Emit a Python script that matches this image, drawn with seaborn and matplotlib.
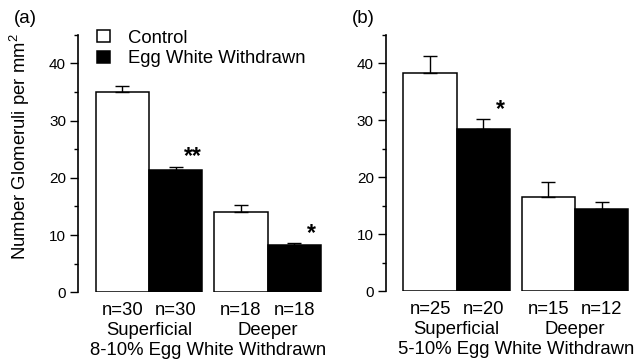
import numpy as np
import pandas as pd
import matplotlib
matplotlib.use("Agg")
import matplotlib.pyplot as plt
import matplotlib.transforms as mtransforms
from matplotlib.ticker import MultipleLocator
import seaborn as sns

# ---- data ----
groups = ["Superficial", "Deeper"]
conditions = ["Control", "Egg White Withdrawn"]

a_control = [35.0, 14.1]
a_control_err = [1.0, 1.1]
a_egg = [21.3, 8.3]
a_egg_err = [0.6, 0.3]
a_n_control = ["n=30", "n=18"]
a_n_egg = ["n=30", "n=18"]
a_stars = ["**", "*"]          # over Egg White bars
a_title = "8-10% Egg White Withdrawn"

b_control = [38.3, 16.6]
b_control_err = [3.1, 2.5]
b_egg = [28.4, 14.5]
b_egg_err = [1.8, 1.1]
b_n_control = ["n=25", "n=15"]
b_n_egg = ["n=20", "n=12"]
b_stars = ["*", ""]
b_title = "5-10% Egg White Withdrawn"

sns.set_theme(style="white")
plt.rcParams["font.family"] = ["Liberation Sans", "DejaVu Sans"]
plt.rcParams["font.size"] = 11
plt.rcParams["mathtext.fontset"] = "custom"
plt.rcParams["mathtext.rm"] = "Liberation Sans"
for key in ["text.color", "axes.labelcolor", "xtick.color", "ytick.color",
            "axes.edgecolor"]:
    plt.rcParams[key] = "black"

FS = 13.3

fig = plt.figure(figsize=(6.44, 3.61), dpi=100)
ax_a = fig.add_axes([0.121, 0.1903, 0.3865, 0.7136])
ax_b = fig.add_axes([0.599, 0.1939, 0.3857, 0.709])


def draw_panel(ax, ctrl, ctrl_err, egg, egg_err, n_ctrl, n_egg, stars, title):
    df = pd.DataFrame({
        "group": groups * 2,
        "condition": [conditions[0]] * 2 + [conditions[1]] * 2,
        "value": list(ctrl) + list(egg),
    })
    sns.barplot(data=df, x="group", y="value", hue="condition",
                order=groups, hue_order=conditions,
                palette=["white", "black"], edgecolor="black", linewidth=1.1,
                width=0.9, errorbar=None, ax=ax, legend=True)
    bar_conts = list(ax.containers[:2])
    errs = [ctrl_err, egg_err]
    nlabels = [n_ctrl, n_egg]
    base = ax.get_xaxis_transform()
    t1 = mtransforms.offset_copy(base, fig=fig, y=-23, units="dots")
    t2 = mtransforms.offset_copy(base, fig=fig, y=-43, units="dots")
    t3 = mtransforms.offset_copy(base, fig=fig, y=-63, units="dots")
    for k, cont in enumerate(bar_conts):
        xs = np.array([p.get_x() + p.get_width() / 2 for p in cont.patches])
        hs = np.array([p.get_height() for p in cont.patches])
        e = np.array(errs[k])
        ax.errorbar(xs, hs, yerr=[np.zeros_like(e), e], fmt="none",
                    ecolor="black", elinewidth=1.0, capsize=5, capthick=1.0,
                    zorder=1)
        for x, lab in zip(xs, nlabels[k]):
            ax.text(x, 0, lab, transform=t1, ha="center", va="baseline",
                    fontsize=FS)
        if k == 1:
            for x, h, ee, s in zip(xs, hs, e, stars):
                if s:
                    ax.text(x + 0.145, h + ee + 0.6, s, ha="center",
                            va="baseline", fontsize=16.5, fontweight="bold")
    for i, g in enumerate(groups):
        ax.text(i, 0, g, transform=t2, ha="center", va="baseline", fontsize=FS)
    ax.text(0.5, 0, title, transform=t3, ha="center", va="baseline",
            fontsize=FS)

    ax.set_xlim(-0.6, 1.5)
    ax.set_ylim(0, 45)
    ax.yaxis.set_major_locator(MultipleLocator(10))
    ax.yaxis.set_minor_locator(MultipleLocator(5))
    ax.tick_params(axis="y", which="major", direction="out", length=5.5,
                   width=1.0, left=True, labelsize=11, pad=3, colors="black")
    ax.tick_params(axis="y", which="minor", direction="out", length=3,
                   width=1.0, left=True, colors="black")
    ax.set_xticks([])
    ax.set_xlabel("")
    ax.set_ylabel("")
    for side in ["top", "right", "bottom"]:
        ax.spines[side].set_visible(False)
    ax.spines["left"].set_color("black")
    ax.spines["left"].set_linewidth(1.2)
    ax.patch.set_alpha(0)


draw_panel(ax_a, a_control, a_control_err, a_egg, a_egg_err,
           a_n_control, a_n_egg, a_stars, a_title)
draw_panel(ax_b, b_control, b_control_err, b_egg, b_egg_err,
           b_n_control, b_n_egg, b_stars, b_title)

# legend only in panel a
handles, labels = ax_a.get_legend_handles_labels()
ax_b.get_legend().remove()
ax_a.get_legend().remove()
ax_a.legend(handles, labels, loc="upper left", bbox_to_anchor=(0.075, 1.02),
            frameon=False, fontsize=FS, handlelength=0.7, handleheight=0.6,
            handletextpad=1.0, labelspacing=0.2, borderaxespad=0,
            borderpad=0, labelcolor="black")

ax_a.set_ylabel("Number Glomeruli per mm$^2$", fontsize=FS, color="black")
ax_a.yaxis.set_label_coords(-0.185, 0.566)

fig.text(14 / 644, 1 - 10 / 361, "(a)", ha="left", va="top", fontsize=13.5)
fig.text(352 / 644, 1 - 10 / 361, "(b)", ha="left", va="top", fontsize=13.5)

fig.savefig("out.png", dpi=100)
